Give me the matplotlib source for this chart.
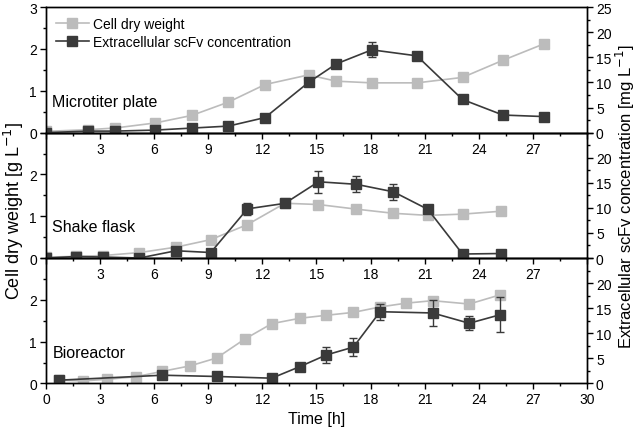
import numpy as np
import matplotlib
matplotlib.use('Agg')
import matplotlib.pyplot as plt
from matplotlib.ticker import MultipleLocator

plt.rcParams['font.family'] = ['Liberation Sans', 'DejaVu Sans']
plt.rcParams['font.size'] = 10

# Microtiter plate
mtp_t = [0.0, 2.35, 3.83, 6.05, 8.08, 10.12, 12.15, 14.56, 16.1, 18.07, 20.57, 23.1, 25.34, 27.6]
mtp_cdw = [0.03, 0.07, 0.11, 0.23, 0.41, 0.73, 1.15, 1.38, 1.23, 1.19, 1.19, 1.32, 1.73, 2.12]
mtp_scfv = [0.0, 0.3, 0.3, 0.5, 0.9, 1.3, 3.0, 10.0, 13.7, 16.5, 15.3, 6.6, 3.5, 3.2]
mtp_err = [0, 0, 0, 0, 0, 0, 0, 0, 0.4, 1.5, 0.3, 0, 0, 0]

# Shake flask
sf_t = [0.0, 1.66, 3.18, 5.18, 7.21, 9.14, 11.17, 13.25, 15.11, 17.2, 19.27, 21.18, 23.1, 25.25]
sf_cdw = [0.02, 0.04, 0.06, 0.13, 0.26, 0.44, 0.80, 1.31, 1.28, 1.17, 1.07, 1.02, 1.05, 1.12]
sf_scfv = [0.0, 0.3, 0.2, 0.0, 1.45, 1.1, 9.8, 10.9, 15.2, 14.7, 13.2, 9.7, 0.8, 0.9]
sf_err = [0, 0, 0, 0, 0, 0, 1.25, 0, 2.2, 1.6, 1.55, 0.5, 0, 0]

# Bioreactor
br_t_cdw = [0.72, 2.04, 3.4, 4.98, 6.46, 7.99, 9.47, 11.02, 12.52, 14.09,
            15.54, 17.05, 18.53, 19.96, 21.44, 23.47, 25.19]
br_cdw = [0.08, 0.06, 0.10, 0.16, 0.29, 0.42, 0.61, 1.06, 1.43, 1.56,
          1.63, 1.70, 1.83, 1.92, 1.98, 1.90, 2.12]
br_t_scfv = [0.72, 6.46, 9.47, 12.52, 14.09, 15.54, 17.05, 18.53, 21.44, 23.47, 25.19]
br_scfv = [0.65, 1.64, 1.39, 1.05, 3.37, 5.67, 7.25, 14.3, 14.05, 12.0, 13.7]
br_err = [0, 0, 0, 0, 0, 1.5, 1.85, 1.6, 2.6, 1.35, 3.5]

panels = [
    ('Microtiter plate', mtp_t, mtp_cdw, mtp_t, mtp_scfv, mtp_err),
    ('Shake flask', sf_t, sf_cdw, sf_t, sf_scfv, sf_err),
    ('Bioreactor', br_t_cdw, br_cdw, br_t_scfv, br_scfv, br_err),
]

light = '#bcbcbc'
dark = '#3a3a3a'

fig, axes = plt.subplots(3, 1, figsize=(6.38, 4.31), dpi=100)
fig.subplots_adjust(left=0.072, right=0.920, top=0.981, bottom=0.108, hspace=0)

for i, (name, tc, cdw, ts, scfv, err) in enumerate(panels):
    ax = axes[i]
    ax2 = ax.twinx()
    l1, = ax.plot(tc, cdw, '-s', color=light, lw=1.2, ms=7)
    eb = ax2.errorbar(ts, scfv, yerr=err, fmt='-s', color=dark, ecolor=dark, lw=1.2,
                      ms=7, capsize=3, elinewidth=1)
    ax.set_xlim(0, 30)
    ax.set_ylim(0, 3)
    ax2.set_ylim(0, 25)
    ax.set_xticks(np.arange(0, 31, 3))
    ax.xaxis.set_minor_locator(MultipleLocator(1.5))
    ax.yaxis.set_minor_locator(MultipleLocator(0.5))
    ax2.yaxis.set_minor_locator(MultipleLocator(2.5))
    ax.set_yticks([0, 1, 2, 3])
    ax2.set_yticks([0, 5, 10, 15, 20, 25])
    for a in (ax, ax2):
        a.tick_params(which='major', direction='out', length=4.5, width=1, labelsize=10)
        a.tick_params(which='minor', direction='out', length=2.5, width=1)
        for s in a.spines.values():
            s.set_linewidth(1)
    ax.tick_params(axis='x', pad=2)
    ax.tick_params(axis='y', pad=2)
    ax2.tick_params(axis='y', pad=2)
    if i < 2:
        ax.set_xticklabels([''] + [str(v) for v in range(3, 30, 3)] + [''])
    if i > 0:
        ax.set_yticklabels(['0', '1', '2', ''])
        ax2.set_yticklabels(['0', '5', '10', '15', '20', ''])
    ax.text(0.012, 0.19, name, transform=ax.transAxes, fontsize=11.5, ha='left', va='bottom')
    ax.set_zorder(ax2.get_zorder() - 1)
    ax.patch.set_visible(False)
    ax2.patch.set_visible(False)
    if i == 0:
        ax2.legend([l1, eb[0]], ['Cell dry weight', 'Extracellular scFv concentration'],
                   loc='upper left', frameon=False, fontsize=10, handlelength=2.4,
                   handletextpad=0.3, borderaxespad=0.3, labelspacing=0.3)

axes[2].set_xlabel('Time [h]', fontsize=11.5, labelpad=3)
fig.text(0.003, 0.51, 'Cell dry weight [g L$^{-1}$]', rotation=90, va='center',
         ha='left', fontsize=13)
fig.text(0.998, 0.545, 'Extracellular scFv concentration [mg L$^{-1}$]', rotation=90,
         va='center', ha='right', fontsize=12)

fig.savefig('out.png', dpi=100)
